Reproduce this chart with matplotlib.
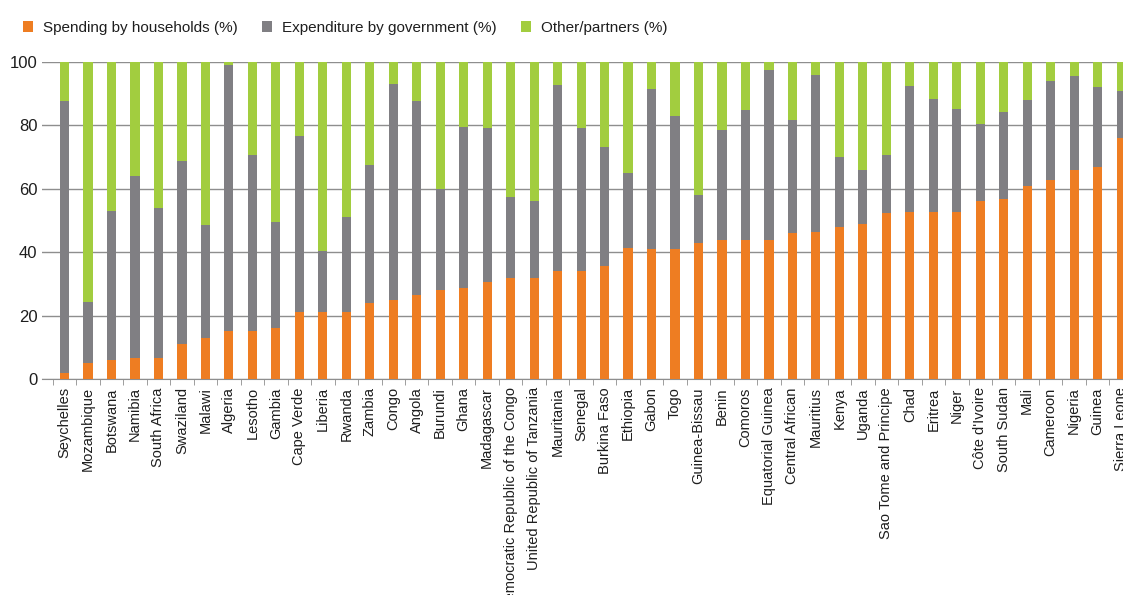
import matplotlib.pyplot as plt
import numpy as np

countries = [
    "Seychelles", "Mozambique", "Botswana", "Namibia", "South Africa", "Swaziland",
    "Malawi", "Algeria", "Lesotho", "Gambia", "Cape Verde", "Liberia", "Rwanda",
    "Zambia", "Congo", "Angola", "Burundi", "Ghana", "Madagascar",
    "Democratic Republic of the Congo", "United Republic of Tanzania", "Mauritania",
    "Senegal", "Burkina Faso", "Ethiopia", "Gabon", "Togo", "Guinea-Bissau", "Benin",
    "Comoros", "Equatorial Guinea", "Central African", "Mauritius", "Kenya", "Uganda",
    "Sao Tome and Principe", "Chad", "Eritrea", "Niger", "Côte d'Ivoire",
    "South Sudan", "Mali", "Cameroon", "Nigeria", "Guinea", "Sierra Leone",
]

households = [
    2, 5, 6, 6.5, 6.5, 11, 13, 15, 15, 16, 21, 21, 21, 24, 25, 26.5, 28, 28.6,
    30.7, 31.8, 31.8, 34, 34, 35.7, 41.2, 41, 41, 42.8, 43.9, 43.9, 43.9, 46,
    46.5, 47.8, 49, 52.3, 52.6, 52.6, 52.6, 56, 56.7, 60.9, 62.8, 66, 67, 76,
]

# top of the government segment (households + government)
hh_plus_gov = [
    87.6, 24.4, 53, 64, 54, 68.8, 48.5, 99, 70.5, 49.5, 76.5, 40.5, 51, 67.4,
    93, 87.8, 60, 79.5, 79.2, 57.4, 56.2, 92.8, 79.2, 73.2, 65, 91.5, 82.8, 58.1,
    78.6, 84.7, 97.4, 81.6, 96, 70, 66, 70.5, 92.4, 88.3, 85, 80.5, 84.3, 87.9,
    93.9, 95.5, 92.1, 90.7,
]

labels = ["Spending by households (%)", "Expenditure by government (%)", "Other/partners (%)"]
colors = ["#EE7D22", "#807F83", "#A2CD3F"]

hh = np.array(households)
gov = np.array(hh_plus_gov) - hh
other = 100 - np.array(hh_plus_gov)

plt.rcParams['font.family'] = ['Liberation Sans', 'DejaVu Sans']

fig = plt.figure(figsize=(11.23, 5.95), dpi=100)
ax = fig.add_axes([0.037, 0.363, 0.963, 0.533])

x = np.arange(len(countries))
w = 0.39
ax.bar(x, hh, w, color=colors[0], label=labels[0], zorder=3)
ax.bar(x, gov, w, bottom=hh, color=colors[1], label=labels[1], zorder=3)
ax.bar(x, other, w, bottom=hh + gov, color=colors[2], label=labels[2], zorder=3)

ax.set_ylim(0, 100)
ax.set_xlim(-0.98, 45.08)
ax.set_yticks([0, 20, 40, 60, 80, 100])
ax.yaxis.grid(True, color="#8E8E8E", linewidth=1.0, zorder=0)
ax.set_axisbelow(True)
for s in ["left", "right", "top"]:
    ax.spines[s].set_visible(False)
ax.spines["bottom"].set_color("#8E8E8E")

ax.set_xticks(x)
ax.set_xticklabels(countries, rotation=90, fontsize=10.5, color="#1E1E1E")
ax.set_xticks(x - 0.5, minor=True)
ax.tick_params(axis="x", which="major", length=0, pad=6)
ax.tick_params(axis="x", which="minor", length=4, color="#8E8E8E")
ax.tick_params(axis="y", length=0, labelsize=12, pad=3, labelcolor="#1E1E1E")

fig.legend(loc="center left", bbox_to_anchor=(0.008, 0.953), ncol=3, frameon=False,
           fontsize=11, handlelength=0.7, handleheight=0.7, handletextpad=0.6,
           columnspacing=1.6, labelcolor="#1E1E1E")

fig.savefig("out.png", dpi=100)
